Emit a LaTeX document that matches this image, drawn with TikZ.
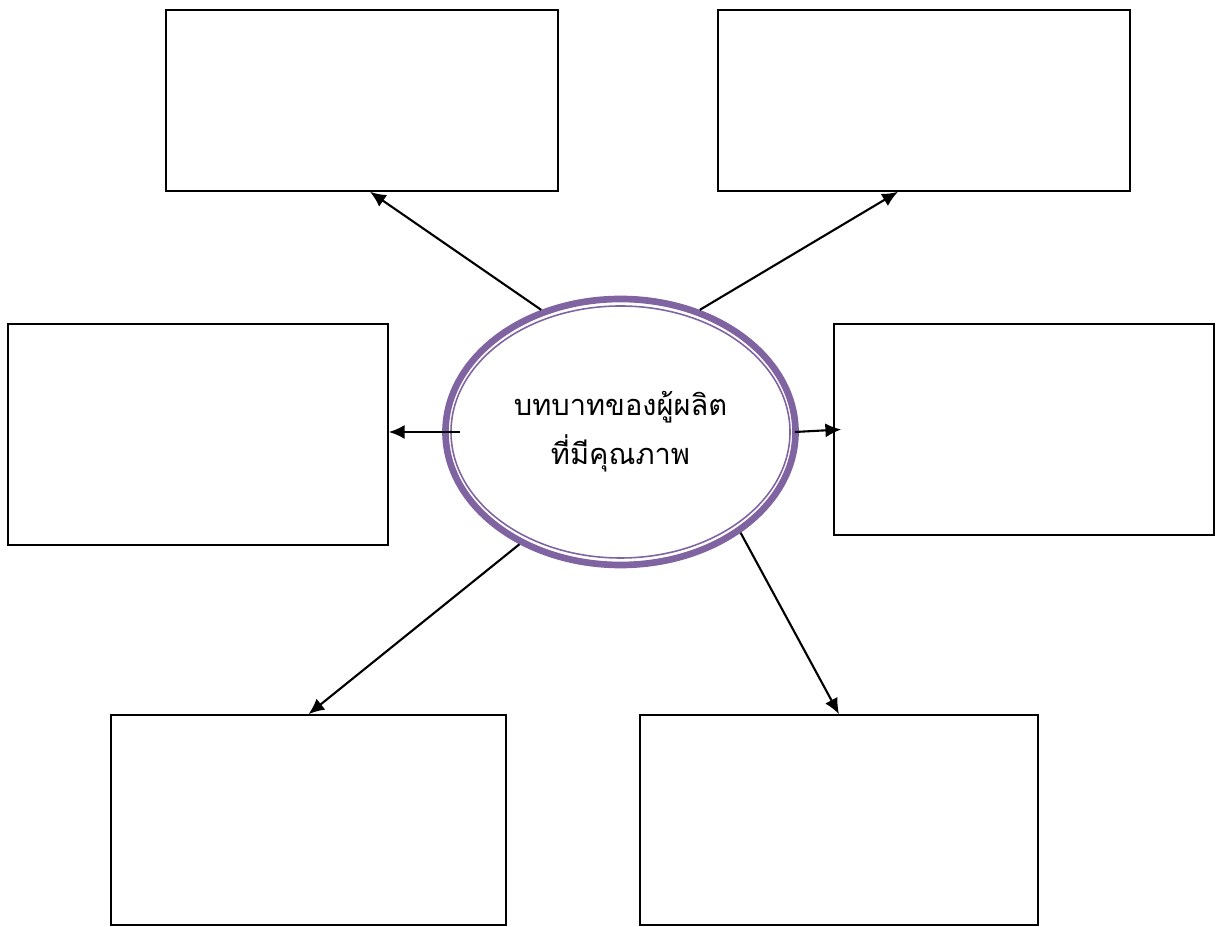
\documentclass[tikz,border=0pt]{standalone}
\usepackage{fontspec}
\newfontfamily\thaifont[Script=Thai]{Loma}
\usepackage{xcolor}
\usepackage{tikz}
\usetikzlibrary{arrows.meta,positioning,calc,shapes.geometric}
\definecolor{rolepurple}{RGB}{128,100,162}

\begin{document}
\begin{tikzpicture}[
        box/.style={draw,line width=0.9pt,inner sep=0pt},
        link/.style={-{Latex[length=9pt,width=8pt]},line width=1.2pt}
    ]
        \useasboundingbox (0,0) rectangle (24.34,18.54);

        % Empty answer boxes
        \foreach \name/\x/\y/\w/\h in {tl/7.24/16.53/7.84/3.62,tr/18.48/16.53/8.24/3.62,
                ml/3.96/9.85/7.6/4.42,mr/20.48/9.95/7.6/4.22,
                bl/6.17/2.14/7.9/4.2,br/16.78/2.14/7.96/4.2} {
            \node[box,minimum width=\w cm,minimum height=\h cm] (\name) at (\x,\y) {};
        }

        % Centre topic
        \node[ellipse,draw=rolepurple,line width=3.8pt,inner sep=0pt,
              minimum width=7.0cm,minimum height=5.32cm,
              font=\thaifont\fontsize{16.5}{28}\selectfont,align=center] (core) at (12.41,9.9)
            {บทบาทของผู้ผลิต\\ที่มีคุณภาพ};
        \draw[rolepurple,line width=0.9pt] (core.center) ellipse (3.39 and 2.52);

        % Arrows to the boxes
        \draw[link] (core.123) -- ([xshift=0.16cm]tl.south);
        \draw[link] (core.57) -- ([xshift=-0.52cm]tr.south);
        \draw[link] ([xshift=0.36cm]core.west) -- (core.west -| ml.east);
        \draw[link] ([xshift=-0.08cm]core.east) -- ([xshift=0.16cm]mr.west);
        \draw[link] (core.228) -- (bl.north);
        \draw[link] (core.320) -- (br.north);
    \end{tikzpicture}
\end{document}
